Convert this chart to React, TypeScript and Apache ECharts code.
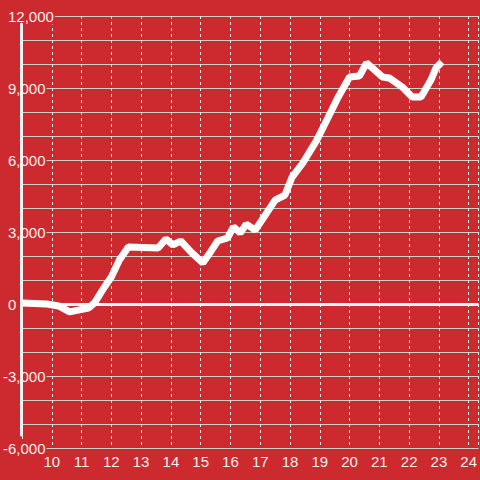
import React, { useEffect, useRef } from 'react';
import * as echarts from 'echarts';

// x positions (hour of day) and cumulative values
const hours = [
  9.0, 9.83, 10.23, 10.6, 11.23, 11.43, 11.77, 12.0, 12.27, 12.57,
  13.57, 13.83, 14.07, 14.33, 14.67, 15.07, 15.33, 15.57, 15.9, 16.1,
  16.33, 16.53, 16.83, 17.17, 17.5, 17.83, 18.07, 18.43, 18.9, 19.27,
  19.6, 20.0, 20.33, 20.57, 20.77, 21.1, 21.33, 21.77, 22.1, 22.4,
  22.73, 22.9, 23.1,
];
const values = [
  40, 0, -80, -330, -170, 40, 710, 1125, 1830, 2375,
  2330, 2710, 2460, 2625, 2170, 1710, 2170, 2625, 2750, 3210,
  2960, 3330, 3080, 3710, 4330, 4540, 5290, 5875, 6830, 7750,
  8580, 9460, 9500, 10040, 9830, 9460, 9420, 9040, 8625, 8625,
  9330, 9830, 10080,
];

const xMin = 9;
const xMax = 24.33;
const yMin = -6000;
const yMax = 12000;
const yStep = 1000;
const yLabelStep = 3000;

const BG = '#cc2a2f';
const LABEL = '#f8eeee';
const FONT = 'Liberation Sans, Arial, sans-serif';
const FS = 15;

export default function App() {
  const ref = useRef<HTMLDivElement>(null);

  useEffect(() => {
    if (!ref.current) return;
    const chart = echarts.init(ref.current, undefined, { renderer: 'svg' });
    const data = hours.map((h, i) => [h, values[i]]);
    chart.setOption({
      animation: false,
      backgroundColor: BG,
      textStyle: { fontFamily: FONT },
      grid: [
        { left: 20, right: 0, top: 16, bottom: 32, containLabel: false },
        { left: 21, right: 0, top: 24, bottom: 45, containLabel: false },
      ],
      xAxis: [
        {
          type: 'value',
          gridIndex: 0,
          min: xMin,
          max: xMax,
          interval: 1,
          axisLine: { show: false },
          axisTick: { show: false },
          axisLabel: {
            show: true,
            color: LABEL,
            fontSize: FS,
            fontFamily: FONT,
            margin: 6,
            showMinLabel: false,
            showMaxLabel: false,
            formatter: (v: number) => (Number.isInteger(v) ? String(v) : ''),
          },
          splitLine: {
            show: true,
            lineStyle: { color: '#ececec', width: 1, type: [3, 3] },
          },
        },
        { type: 'value', gridIndex: 1, show: false, min: 0, max: 1 },
      ],
      yAxis: [
        {
          type: 'value',
          gridIndex: 0,
          min: yMin,
          max: yMax,
          interval: yStep,
          axisLine: { show: false },
          axisTick: { show: false },
          axisLabel: {
            show: true,
            align: 'left',
            margin: 19,
            color: LABEL,
            fontSize: FS,
            fontFamily: FONT,
            backgroundColor: BG,
            padding: [1, 1, 1, 0],
            formatter: (v: number) => {
              if (v % yLabelStep !== 0) return '';
              const s = v.toLocaleString('en-US');
              return v < 0 ? `{n|${s}}` : `{p|${s}}`;
            },
            rich: {
              p: { padding: [0, 0, 0, 5], color: LABEL, fontSize: FS, fontFamily: FONT },
              n: { color: LABEL, fontSize: FS, fontFamily: FONT },
            },
          },
          splitLine: {
            show: true,
            lineStyle: { color: '#cfcfcf', width: 1.2, type: 'solid' },
          },
        },
        {
          type: 'value',
          gridIndex: 1,
          min: 0,
          max: 1,
          z: 10,
          axisLine: { show: true, lineStyle: { color: '#f2f2f2', width: 3 } },
          axisTick: { show: false },
          axisLabel: { show: false },
          splitLine: { show: false },
        },
      ],
      series: [
        {
          type: 'line',
          xAxisIndex: 0,
          yAxisIndex: 0,
          data,
          showSymbol: false,
          symbol: 'none',
          lineStyle: { color: '#ffffff', width: 7, join: 'bevel' },
          z: 5,
          markLine: {
            silent: true,
            symbol: 'none',
            label: { show: false },
            lineStyle: { color: '#f5f5f5', width: 3, type: 'solid' },
            data: [{ yAxis: 0 }],
          },
        },
      ],
    });
    return () => chart.dispose();
  }, []);

  return (
    <div
      ref={ref}
      style={{ position: 'fixed', left: 0, top: 0, width: 480, height: 480 }}
    />
  );
}
